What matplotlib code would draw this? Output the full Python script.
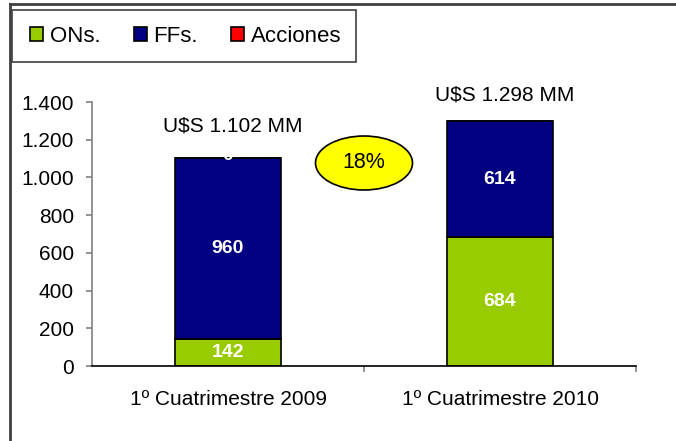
import matplotlib.pyplot as plt
from matplotlib.patches import Ellipse, Rectangle
from matplotlib.lines import Line2D

plt.rcParams['font.family'] = ['Liberation Sans', 'DejaVu Sans']

# datos
periodos = ['1º Cuatrimestre 2009', '1º Cuatrimestre 2010']
ons = [142, 684]
ffs = [960, 614]
acciones = [0, 0]
totales_txt = ['U$S 1.102 MM', 'U$S 1.298 MM']
variacion = '18%'

verde = '#99cc00'
azul = '#000080'
rojo = '#ff0000'

W, H = 676, 441
fig = plt.figure(figsize=(W / 100, H / 100), dpi=100)
ax = fig.add_axes([92 / W, 1 - 366 / H, (636 - 92) / W, (366 - 102) / H])

x = range(len(periodos))
w = 0.39
ax.bar(x, ons, w, color=verde, edgecolor='black', linewidth=1.2, label='ONs.')
ax.bar(x, ffs, w, bottom=ons, color=azul, edgecolor='black', linewidth=1.2, label='FFs.')
base2 = [a + b for a, b in zip(ons, ffs)]
ax.bar(x, acciones, w, bottom=base2, color=rojo, edgecolor='black', linewidth=1.2, label='Acciones')

# etiquetas dentro de las barras
for i in x:
    ax.text(i, ons[i] / 2, str(ons[i]), color='white', fontweight='bold', fontsize=14,
            ha='center', va='center')
    ax.text(i, ons[i] + ffs[i] / 2, str(ffs[i]), color='white', fontweight='bold', fontsize=14,
            ha='center', va='center')
ax.text(0, base2[0] + 12, '0', color='white', fontweight='bold', fontsize=14, ha='center', va='center')

# totales
ax.text(0.018, 1271, totales_txt[0], fontsize=15, ha='center', va='center')
ax.text(1.018, 1436, totales_txt[1], fontsize=15, ha='center', va='center', clip_on=False)

# elipse de variacion
el = Ellipse((364 / W, 1 - 163 / H), 97 / W, 54 / H, transform=fig.transFigure,
             facecolor='#ffff00', edgecolor='black', linewidth=1.2)
fig.patches.append(el)
fig.text(364 / W, 1 - 163 / H, variacion, fontsize=15.5, ha='center', va='center')

ax.set_xlim(-0.5, 1.5)
ax.set_ylim(0, 1400)
ax.set_yticks(range(0, 1401, 200))
ax.set_yticklabels(['0', '200', '400', '600', '800', '1.000', '1.200', '1.400'])
ax.set_xticks([0, 1])
ax.set_xticklabels(periodos)
ax.set_xticks([0.5, 1.5], minor=True)
ax.tick_params(axis='x', which='major', length=0, pad=17, labelsize=15)
ax.tick_params(axis='x', which='minor', length=4.5, direction='out', color='#808080', width=1.2)
ax.tick_params(axis='y', length=4, color='#808080', width=1.2, pad=9, labelsize=15)

for s in ['top', 'right']:
    ax.spines[s].set_visible(False)
ax.spines['left'].set_color('#808080')
ax.spines['left'].set_linewidth(1.2)
ax.spines['bottom'].set_color('black')
ax.spines['bottom'].set_linewidth(1.2)

# borde exterior (arriba e izquierda)
fig.add_artist(Line2D([10 / W, 10 / W], [0, 1 - 4 / H], transform=fig.transFigure,
                      color='#404040', linewidth=2))
fig.add_artist(Line2D([10 / W, 1], [1 - 4 / H, 1 - 4 / H], transform=fig.transFigure,
                      color='#404040', linewidth=2))

# recuadro de la leyenda
fig.patches.append(Rectangle((12 / W, 1 - 62 / H), (356 - 12) / W, 52 / H, transform=fig.transFigure,
                             fill=False, edgecolor='#404040', linewidth=1.2))
leg = fig.legend(loc='center left', bbox_to_anchor=(30 / W, 1 - 36 / H), ncol=3, frameon=False,
                 fontsize=16, handlelength=0.6, handleheight=0.6, columnspacing=1.5,
                 handletextpad=0.28, borderpad=0, borderaxespad=0)

fig.savefig('out.png', dpi=100)
